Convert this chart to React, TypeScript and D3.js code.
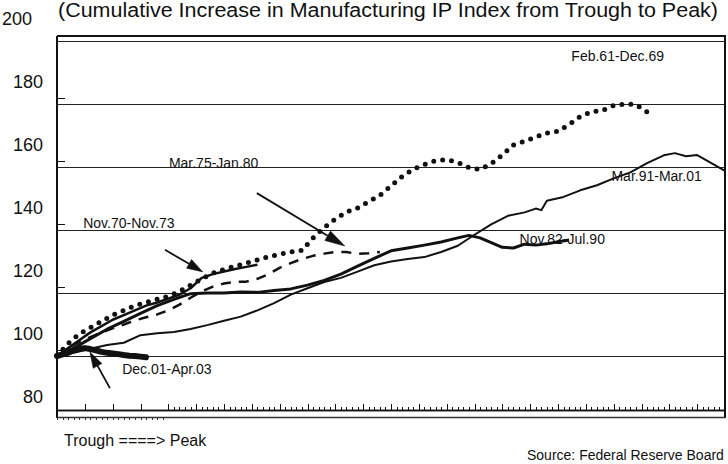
import { useEffect, useRef } from 'react';
import * as d3 from 'd3';

const W = 728, H = 464;

const TITLE = '(Cumulative Increase in Manufacturing IP Index from Trough to Peak)';

// y axis values (index, trough = 100)
const yTicks = [80, 100, 120, 140, 160, 180, 200];
const gridValues = [100, 120, 140, 160, 180, 200];

// month ticks on the x axis
const majorMonths = [5, 10, 15, 20, 25, 30, 35, 40, 45, 50, 55, 60, 65, 70, 75, 80, 85, 90, 95, 100, 105, 110, 115, 120];
const lowerMonths = [0, 1, 2, 3, 4, 5, 6, 7, 8, 9, 10, 11, 12, 13, 14, 15, 16, 17, 18, 19];

// Feb.61-Dec.69 (dotted)
const feb61Months = [0, 2, 4, 6, 8, 10, 12, 14, 16, 18, 20, 22, 24, 26, 28, 30, 32, 34, 36, 38, 40, 42, 44, 46, 48, 50, 52, 54, 56, 58, 60, 62, 64, 66, 68, 70, 72, 74, 76, 78, 80, 82, 84, 86, 88, 90, 92, 94, 96, 98, 100, 102, 104, 106];
const feb61Values = [100, 104, 107, 109, 111, 113, 114.5, 116, 117, 118, 119, 120.5, 122.5, 124.5, 126.3, 127.5, 128.5, 129.5, 130.5, 131.5, 132.3, 133, 133.5, 137.5, 140.8, 143.5, 145.7, 147, 149, 151, 154, 157, 159.3, 160.8, 162, 162.3, 161.5, 159.8, 159.2, 161, 163.8, 167, 168.2, 169.5, 170.8, 171.3, 173.5, 176, 177.5, 178, 179.5, 180, 179.8, 177.5];

// Mar.91-Mar.01 (thin solid)
const mar91Months = [0, 3, 6, 9, 12, 15, 18, 21, 24, 27, 30, 33, 36, 39, 42, 45, 48, 51, 54, 57, 60, 63, 66, 69, 72, 75, 78, 81, 84, 86, 87, 88, 91, 94, 97, 100, 103, 106, 109, 111, 113, 115, 117, 120];
const mar91Values = [100, 101, 102.3, 103.5, 104.2, 106.6, 107.2, 107.6, 108.6, 109.8, 111.2, 112.5, 114.5, 116.8, 119.5, 121.5, 123.5, 124.8, 126.8, 128.8, 130, 130.8, 131.4, 133, 135, 138.5, 141.8, 144.5, 145.6, 146.8, 146.3, 149.3, 150.5, 152.6, 154.2, 156.4, 158.3, 161.2, 163.7, 164.4, 163.4, 163.8, 161.8, 158.8];

// Nov.82-Jul.90 (heavy solid)
const nov82Months = [0, 3, 6, 9, 12, 15, 18, 21, 24, 27, 30, 33, 36, 39, 42, 45, 48, 51, 54, 57, 60, 63, 66, 69, 72, 74, 76, 78, 80, 82, 84, 86, 88, 90, 92];
const nov82Values = [100, 102.5, 105.5, 108.5, 111, 113.5, 116, 118, 119.8, 120, 120, 120.3, 120.2, 120.8, 121.3, 122.5, 124, 126, 128.5, 131, 133.4, 134.3, 135.2, 136.2, 137.5, 138.3, 137.5, 136, 134.5, 134.3, 135.5, 135.2, 135.6, 136.3, 136.8];

// Mar.75-Jan.80 (dashed)
const mar75Months = [0, 2, 4, 6, 8, 10, 12, 14, 16, 18, 20, 22, 24, 26, 28, 30, 32, 34, 36, 38, 40, 42, 44, 46, 48, 50, 52, 54, 56, 58];
const mar75Values = [100, 102.5, 104.5, 106, 107.5, 108.8, 110, 111.3, 112.3, 113.2, 114.5, 116.3, 118.5, 120.5, 122, 123, 123.5, 123.6, 124.5, 126, 128, 129.5, 130.8, 131.8, 132.5, 133, 133, 132.4, 132.6, 133];

// Nov.70-Nov.73 (solid)
const nov70Months = [0, 2, 4, 6, 8, 10, 12, 14, 16, 18, 20, 22, 24, 26, 28, 30, 32, 34, 36];
const nov70Values = [100, 102.5, 105, 107.5, 109.5, 111.5, 113, 114.5, 116, 117, 118.2, 119.5, 121.5, 124.8, 126, 126.8, 127.6, 128.3, 129];

// Dec.01-Apr.03 (very heavy)
const dec01Months = [0, 1, 2, 3, 4, 5, 6, 7, 8, 9, 10, 11, 12, 13, 14, 15, 16];
const dec01Values = [100, 100.5, 101, 101.8, 102.3, 102.5, 102.2, 101.8, 101.3, 101, 100.8, 100.6, 100.3, 100.1, 100, 99.8, 99.6];

const FONT = '"Liberation Sans", Arial, sans-serif';
const INK = '#111';

export default function App() {
  const svgRef = useRef<SVGSVGElement>(null);

  useEffect(() => {
    const svg = d3.select(svgRef.current);
    svg.selectAll('*').remove();

    const x = d3.scaleLinear().domain([0, 120]).range([57, 725]);
    const y = d3.scaleLinear().domain([80, 200]).range([419, 41]);

    svg.append('rect').attr('width', W).attr('height', H).attr('fill', '#fff');

    // title, high up against the top edge like the scan
    svg.append('text')
      .attr('x', 58).attr('y', 16.5)
      .attr('font-family', FONT).attr('font-size', 20).attr('fill', INK)
      .attr('textLength', 660).attr('lengthAdjust', 'spacingAndGlyphs')
      .text(TITLE);

    // gridlines
    svg.append('g')
      .selectAll('line')
      .data(gridValues)
      .join('line')
      .attr('x1', x(0)).attr('x2', x(120))
      .attr('y1', (d) => y(d)).attr('y2', (d) => y(d))
      .attr('stroke', '#222').attr('stroke-width', 1)
      .attr('shape-rendering', 'crispEdges');

    // frame: top, left, right
    const frame = svg.append('g').attr('stroke', INK).attr('shape-rendering', 'crispEdges');
    frame.append('line').attr('x1', x(0)).attr('x2', x(120) + 1).attr('y1', 36).attr('y2', 36).attr('stroke-width', 2);
    frame.append('line').attr('x1', x(0)).attr('x2', x(0)).attr('y1', 36).attr('y2', 418).attr('stroke-width', 2);
    frame.append('line').attr('x1', x(120)).attr('x2', x(120)).attr('y1', 36).attr('y2', 418).attr('stroke-width', 1.5);

    // y labels sit above their gridlines in the original
    svg.append('g')
      .selectAll('text')
      .data(yTicks)
      .join('text')
      .attr('x', (d) => (d === 200 ? 32 : 43))
      .attr('y', (d) => y(d) - 16)
      .attr('text-anchor', 'end')
      .attr('font-family', FONT).attr('font-size', 18).attr('fill', INK)
      .text((d) => d);

    // small left ticks
    svg.append('g')
      .selectAll('line')
      .data(gridValues.filter((d) => d < 200))
      .join('line')
      .attr('x1', x(0)).attr('x2', x(0) + 8)
      .attr('y1', (d) => y(d) - 6).attr('y2', (d) => y(d) - 6)
      .attr('stroke', INK).attr('shape-rendering', 'crispEdges');

    // x axes
    const minorMonths = d3.range(20, 120).filter((m) => m % 5 !== 0);
    const axMajor = svg.append('g').attr('transform', 'translate(0,410)').attr('color', INK);
    axMajor.call(d3.axisTop(x).tickValues(majorMonths).tickSize(6).tickSizeOuter(0).tickFormat(() => ''));
    const axMinor = svg.append('g').attr('transform', 'translate(0,410)').attr('color', INK);
    axMinor.call(d3.axisTop(x).tickValues(minorMonths).tickSize(3).tickSizeOuter(0).tickFormat(() => ''));
    const axLower = svg.append('g').attr('transform', 'translate(0,417)').attr('color', '#333');
    axLower.call(d3.axisBottom(x).tickValues(lowerMonths).tickSize(3).tickSizeOuter(0).tickFormat(() => ''));
    svg.selectAll('.domain').attr('stroke-width', 1.5);
    svg.selectAll('.tick line').attr('shape-rendering', 'crispEdges');

    // series
    const line = d3.line<[number, number]>().x((d) => x(d[0])).y((d) => y(d[1]));
    const series = [
      { months: mar91Months, values: mar91Values, width: 2, dash: null, cap: 'butt' },
      { months: mar75Months, values: mar75Values, width: 2.5, dash: '10 8', cap: 'butt' },
      { months: nov70Months, values: nov70Values, width: 2.5, dash: null, cap: 'butt' },
      { months: nov82Months, values: nov82Values, width: 3, dash: null, cap: 'butt' },
      { months: feb61Months, values: feb61Values, width: 5, dash: '0 9', cap: 'round' },
      { months: dec01Months, values: dec01Values, width: 6, dash: null, cap: 'round' },
    ];
    const lines = svg.append('g').attr('fill', 'none');
    series.forEach((s) => {
      const pts = s.months.map((m, i) => [m, s.values[i]] as [number, number]);
      lines.append('path')
        .attr('d', line(pts))
        .attr('stroke', INK)
        .attr('stroke-width', s.width)
        .attr('stroke-linejoin', 'round')
        .attr('stroke-linecap', s.cap)
        .attr('stroke-dasharray', s.dash);
    });

    // series labels
    const labels = [
      { t: 'Feb.61-Dec.69', m: 92.4, v: 193.5 },
      { t: 'Mar.91-Mar.01', m: 99.6, v: 155.5 },
      { t: 'Nov.82-Jul.90', m: 83.1, v: 135.6 },
      { t: 'Mar.75-Jan.80', m: 20.1, v: 159.7 },
      { t: 'Nov.70-Nov.73', m: 4.7, v: 140.6 },
      { t: 'Dec.01-Apr.03', m: 11.7, v: 94.3 },
    ];
    svg.append('g')
      .selectAll('text')
      .data(labels)
      .join('text')
      .attr('x', (d) => x(d.m)).attr('y', (d) => y(d.v))
      .attr('font-family', FONT).attr('font-size', 14).attr('fill', INK)
      .text((d) => d.t);

    // arrows
    const arrows = [
      { m1: 19.4, v1: 133.7, m2: 26.2, v2: 126.7, len: 16, wid: 10 },
      { m1: 35.9, v1: 151.7, m2: 51.7, v2: 134.9, len: 20, wid: 11 },
      { m1: 9.5, v1: 89.8, m2: 5.9, v2: 101.3, len: 16, wid: 10 },
    ];
    const ag = svg.append('g').attr('fill', INK).attr('stroke', INK);
    arrows.forEach((a) => {
      const x1 = x(a.m1), y1 = y(a.v1), x2 = x(a.m2), y2 = y(a.v2);
      const ang = Math.atan2(y2 - y1, x2 - x1);
      const bx = x2 - a.len * Math.cos(ang), by = y2 - a.len * Math.sin(ang);
      const px = (a.wid / 2) * Math.sin(ang), py = (a.wid / 2) * -Math.cos(ang);
      ag.append('line').attr('x1', x1).attr('y1', y1).attr('x2', bx).attr('y2', by).attr('stroke-width', 1.8);
      ag.append('path')
        .attr('d', `M${x2},${y2}L${bx + px},${by + py}L${bx - px},${by - py}Z`)
        .attr('stroke-width', 0.5);
    });

    // footer texts
    svg.append('text')
      .attr('x', 64).attr('y', 446)
      .attr('font-family', FONT).attr('font-size', 16).attr('fill', INK)
      .text('Trough ====> Peak');
    svg.append('text')
      .attr('x', 527).attr('y', 460)
      .attr('font-family', FONT).attr('font-size', 14).attr('fill', INK)
      .text('Source: Federal Reserve Board');
  }, []);

  return (
    <svg
      ref={svgRef}
      width={W}
      height={H}
      style={{ position: 'absolute', left: 0, top: 0, display: 'block' }}
    />
  );
}
